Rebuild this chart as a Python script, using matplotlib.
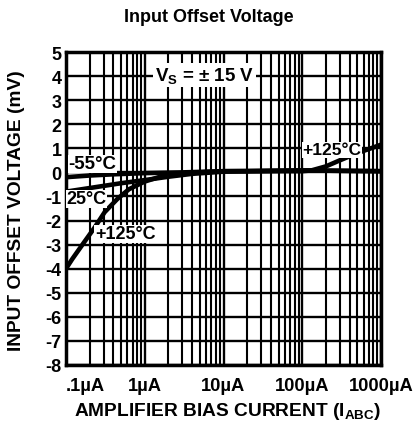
import matplotlib
matplotlib.use("Agg")
import matplotlib.pyplot as plt
from matplotlib.ticker import LogLocator, NullFormatter, FixedLocator

plt.rcParams['font.family'] = ['Liberation Sans', 'DejaVu Sans']
plt.rcParams['mathtext.fontset'] = 'custom'
plt.rcParams['mathtext.bf'] = 'Liberation Sans:bold'
plt.rcParams['mathtext.rm'] = 'Liberation Sans:bold'
plt.rcParams['mathtext.it'] = 'Liberation Sans:bold'

# Data (current in uA, offset voltage in mV)
i_m55 = [0.1, 0.2, 0.4, 1, 3, 10, 100, 1000]
v_m55 = [-0.2, -0.13, -0.08, -0.03, 0.0, 0.05, 0.08, 0.05]

i_25 = [0.1, 0.2, 0.5, 1, 2, 4, 10, 100, 1000]
v_25 = [-0.8, -0.65, -0.45, -0.32, -0.18, -0.06, 0.03, 0.08, 0.05]

i_125 = [0.1, 0.12, 0.17, 0.23, 0.31, 0.45, 0.63, 1.0, 1.5, 2.5, 5, 10, 100, 130, 200, 300, 500, 1000]
v_125 = [-4.0, -3.6, -2.9, -2.3, -1.65, -1.1, -0.7, -0.38, -0.2, -0.08, 0.0, 0.05, 0.05, 0.08, 0.25, 0.5, 0.8, 1.15]

xticks = [0.1, 1, 10, 100, 1000]
xticklabels = ['.1µA', '1µA', '10µA', '100µA', '1000µA']
yticks = list(range(-8, 6))

fig = plt.figure(figsize=(4.16, 4.31), dpi=100)
ax = fig.add_axes([66/416, 65/431, 315/416, 313/431])

ax.set_xscale('log')
ax.set_xlim(0.1, 1000)
ax.set_ylim(-8, 5)

ax.xaxis.set_major_locator(FixedLocator(xticks))
ax.xaxis.set_minor_locator(LogLocator(base=10, subs=range(2, 10)))
ax.xaxis.set_minor_formatter(NullFormatter())
ax.set_xticks(xticks)
ax.set_xticklabels(xticklabels)
ax.set_yticks(yticks)
ax.set_yticklabels([str(v) for v in yticks])

ax.grid(True, which='major', color='black', lw=1.7)
ax.grid(True, which='minor', axis='x', color='black', lw=1.5)
ax.set_axisbelow(True)

ax.tick_params(which='both', length=0)
ax.tick_params(axis='y', pad=3, labelsize=13)
ax.tick_params(axis='x', pad=9, labelsize=13.2)
for lbl in ax.get_xticklabels() + ax.get_yticklabels():
    lbl.set_fontweight('bold')
ax.get_xticklabels()[0].set_horizontalalignment('left')

for s in ax.spines.values():
    s.set_linewidth(2.5)

ax.plot(i_m55, v_m55, color='black', lw=3.3, solid_capstyle='butt', zorder=3)
ax.plot(i_25, v_25, color='black', lw=3.3, solid_capstyle='butt', zorder=3)
ax.plot(i_125, v_125, color='black', lw=3.3, solid_capstyle='butt', zorder=3)

bb = dict(facecolor='white', edgecolor='none', pad=0.5)
ax.text(0.108, 0.35, '-55°C', fontsize=13.5, fontweight='bold', ha='left', va='center', bbox=bb, zorder=4)
ax.text(0.101, -1.1, '25°C', fontsize=13, fontweight='bold', ha='left', va='center', bbox=bb, zorder=4)
ax.text(0.235, -2.55, '+125°C', fontsize=13, fontweight='bold', ha='left', va='center', bbox=bb, zorder=4)
ax.text(100, 0.93, '+125°C', fontsize=12.5, fontweight='bold', ha='left', va='center', bbox=bb, zorder=4)
ax.text(1.34, 4.05, r'V$_\mathbf{S}$ = ± 15 V', fontsize=13.5, fontweight='bold', ha='left', va='center',
        bbox=dict(facecolor='white', edgecolor='none', pad=1.5), zorder=4)

fig.text(209/416, 1 - 18/431, 'Input Offset Voltage', fontsize=13, fontweight='bold',
         ha='center', va='center')
fig.text(17/416, 1 - 211/431, 'INPUT OFFSET VOLTAGE (mV)', fontsize=13.8, fontweight='bold',
         rotation=90, ha='center', va='center')
fig.text(228/416, 1 - 412/431, r'AMPLIFIER BIAS CURRENT (I$_\mathbf{ABC}$)', fontsize=13.8,
         fontweight='bold', ha='center', va='center')

fig.savefig('out.png', dpi=100)
